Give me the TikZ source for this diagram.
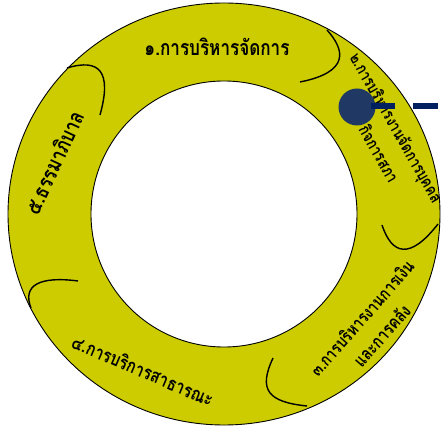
\documentclass[tikz,border=0pt]{standalone}
\usepackage{fontspec}
\usepackage{graphicx}
\newfontfamily\thaifont[Script=Thai]{Loma}
\definecolor{ringfill}{HTML}{CCCC00}
\definecolor{dotblue}{HTML}{203864}
\definecolor{barblue}{HTML}{002060}
\newcommand{\fitw}[2]{\scalebox{1}[1.25]{\resizebox{#1}{!}{#2}}}
\begin{document}
\begin{tikzpicture}[x=1pt,y=1pt,
  lbl/.style={font=\thaifont\bfseries, inner sep=0pt, text=black},
  divider/.style={line width=1.4pt, black},
  rim/.style={line width=0.9pt, black}]
\useasboundingbox (0,0) rectangle (444,428);
% ring
\fill[ringfill, even odd rule] (224,214) ellipse [x radius=216, y radius=211]
  (224,214) circle [radius=133];
\draw[rim] (224,214) ellipse [x radius=216, y radius=211];
\draw[rim] (224,214) circle [radius=133];
% dividers
\draw[divider] (67,360) .. controls (100,370) and (112,356) .. (100,313);
\draw[divider] (327,398) .. controls (345,378) and (350,356) .. (300,346);
\draw[divider] (382,203) .. controls (392,173) and (410,168) .. (438,204);
\draw[divider] (273,70) .. controls (258,38) and (268,26) .. (307,22);
\draw[divider] (78,147) .. controls (40,152) and (22,143) .. (31,120);
% labels
\node[lbl] (l1) at (217,381) {\fitw{145pt}{๑.การบริหารจัดการ}};
\node[lbl, rotate=-60.3] (l2a) at (395,299.5) {\fitw{169pt}{๒.การบริหารงานจัดการบุคคล}};
\node[lbl, rotate=-60.3] (l2b) at (379.5,274.5) {\fitw{63pt}{กิจการสภา}};
\node[lbl, rotate=48.6] (l3a) at (361.5,110) {\fitw{147pt}{๓.การบริหารงานการเงิน}};
\node[lbl, rotate=48.6] (l3b) at (381.5,92.5) {\fitw{76pt}{และการคลัง}};
\node[lbl, rotate=-23.2] (l4) at (143,58) {\fitw{152pt}{๔.การบริการสาธารณะ}};
\node[lbl, rotate=65] (l5) at (53.5,265.5) {\fitw{111pt}{๕.ธรรมาภิบาล}};
% marker
\fill[dotblue] (357,321) circle [radius=18.5];
\fill[barblue] (371,319) rectangle (395,325);
\fill[barblue] (413,319) rectangle (437.5,325);
\end{tikzpicture}
\end{document}
